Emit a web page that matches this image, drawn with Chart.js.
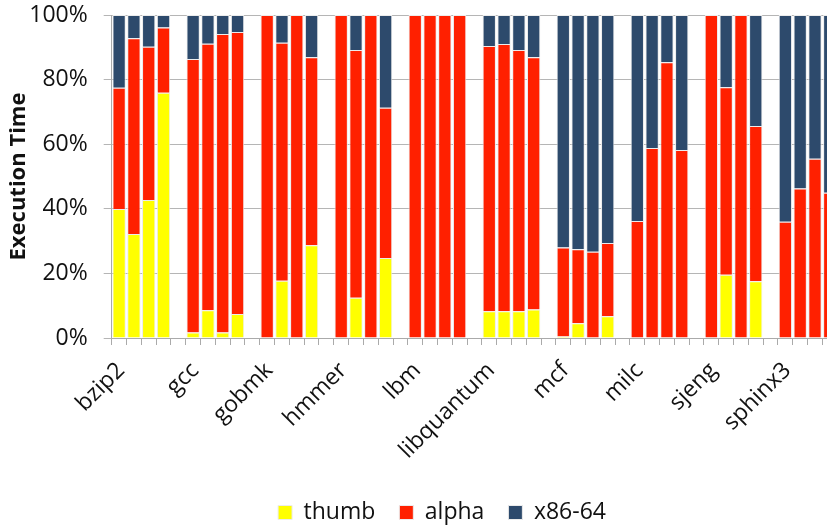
<!DOCTYPE html>
<html>
<head>
<meta charset="utf-8">
<script src="https://cdn.jsdelivr.net/npm/chart.js@4"></script>
<style>
  html, body { margin: 0; padding: 0; background: #fff; overflow: hidden; }
  #wrap { width: 860px; height: 528px; }
</style>
</head>
<body>
<div id="wrap"><canvas id="execChart" width="860" height="528"></canvas></div>
<script>
// benchmarks, 4 bars each
const benchmarks = ['bzip2', 'gcc', 'gobmk', 'hmmer', 'lbm', 'libquantum', 'mcf', 'milc', 'sjeng', 'sphinx3'];

// share of execution time (%), 4 values per benchmark
const thumb = [
    39.9, 32.2, 42.7, 75.9,
    1.7, 8.6, 1.7, 7.4,
    0, 17.7, 0, 28.7,
    0, 12.5, 0, 24.8,
    0, 0, 0, 0,
    8.3, 8.3, 8.3, 8.8,
    0.5, 4.6, 0, 6.7,
    0, 0, 0, 0,
    0, 19.6, 0, 17.6,
    0, 0, 0, 0
];
const alpha = [
    37.6, 60.6, 47.5, 20.2,
    84.7, 82.5, 92.4, 87.3,
    100, 73.7, 100, 58.2,
    100, 76.7, 100, 46.5,
    100, 100, 100, 100,
    82.1, 82.7, 80.9, 78.1,
    27.5, 22.9, 26.7, 22.7,
    36.2, 58.8, 85.4, 58.2,
    100, 58.0, 100, 48.0,
    36.0, 46.3, 55.5, 45.0
];
const x86 = [
    22.5, 7.2, 9.8, 3.9,
    13.6, 8.9, 5.9, 5.3,
    0, 8.6, 0, 13.1,
    0, 10.8, 0, 28.7,
    0, 0, 0, 0,
    9.6, 9.0, 10.8, 13.1,
    72.0, 72.5, 73.3, 70.6,
    63.8, 41.2, 14.6, 41.8,
    0, 22.4, 0, 34.4,
    64.0, 53.7, 44.5, 55.0
];

const yTicks = [0, 20, 40, 60, 80, 100];

// each benchmark takes 5 slots: 4 bars and an empty one
function toSlots(values) {
    const out = [];
    benchmarks.forEach((b, i) => {
        for (let k = 0; k < 4; k++) {
            const v = values[i * 4 + k];
            out.push(v === 0 ? null : v);
        }
        out.push(null);
    });
    return out;
}
const labels = [];
benchmarks.forEach(b => { labels.push(b, '', '', '', ''); });

const FONT = "'Open Sans', sans-serif";

// move legend so it sits where the original has it
const legendShift = {
    id: 'legendShift',
    afterLayout(chart) {
        const l = chart.legend;
        const shift = 442 - (l.left + l.right) / 2;
        l.left += shift;
        l.right += shift;
        l.top += 10;
        l.bottom += 10;
    }
};

const barStyle = { borderColor: '#ececec', borderWidth: 1, barPercentage: 0.9, categoryPercentage: 1.0 };

new Chart(document.getElementById('execChart').getContext('2d'), {
    type: 'bar',
    data: {
        labels: labels,
        datasets: [
            Object.assign({ label: 'thumb', data: toSlots(thumb), backgroundColor: '#ffff00' }, barStyle),
            Object.assign({ label: 'alpha', data: toSlots(alpha), backgroundColor: '#ff2000' }, barStyle),
            Object.assign({ label: 'x86-64', data: toSlots(x86), backgroundColor: '#2d4a6c' }, barStyle)
        ]
    },
    options: {
        responsive: false,
        animation: false,
        layout: { padding: { top: 15, left: 6, right: 8, bottom: 4 } },
        plugins: {
            legend: {
                position: 'bottom',
                labels: {
                    color: '#111',
                    font: { family: FONT, size: 23 },
                    boxWidth: 14,
                    boxHeight: 14,
                    padding: 24
                }
            },
            tooltip: { enabled: false }
        },
        scales: {
            x: {
                stacked: true,
                afterFit: s => {
                    s.height = 129;
                    s.paddingLeft = 0;
                    s.paddingRight = 0;
                },
                grid: { drawOnChartArea: false, tickLength: 7, color: '#aaa', offset: true },
                border: { color: '#aaa' },
                ticks: {
                    autoSkip: false,
                    minRotation: 45,
                    maxRotation: 45,
                    labelOffset: 2,
                    padding: 12,
                    color: '#111',
                    font: { family: FONT, size: 23 }
                }
            },
            y: {
                stacked: true,
                min: 0,
                max: 100,
                afterFit: s => {
                    s.width = 105.7;
                    s.paddingTop = 0;
                    s.paddingBottom = 0;
                },
                afterBuildTicks: s => { s.ticks = yTicks.map(v => ({ value: v })); },
                grid: { color: '#b5b5b5', tickLength: 8 },
                border: { color: '#aaa' },
                ticks: {
                    color: '#111',
                    padding: 16,
                    font: { family: FONT, size: 23 },
                    callback: v => v + '%'
                },
                title: {
                    display: true,
                    text: 'Execution Time',
                    color: '#111',
                    padding: 0,
                    font: { family: FONT, size: 22, weight: 'bold' }
                }
            }
        }
    },
    plugins: [legendShift]
});
</script>
</body>
</html>
